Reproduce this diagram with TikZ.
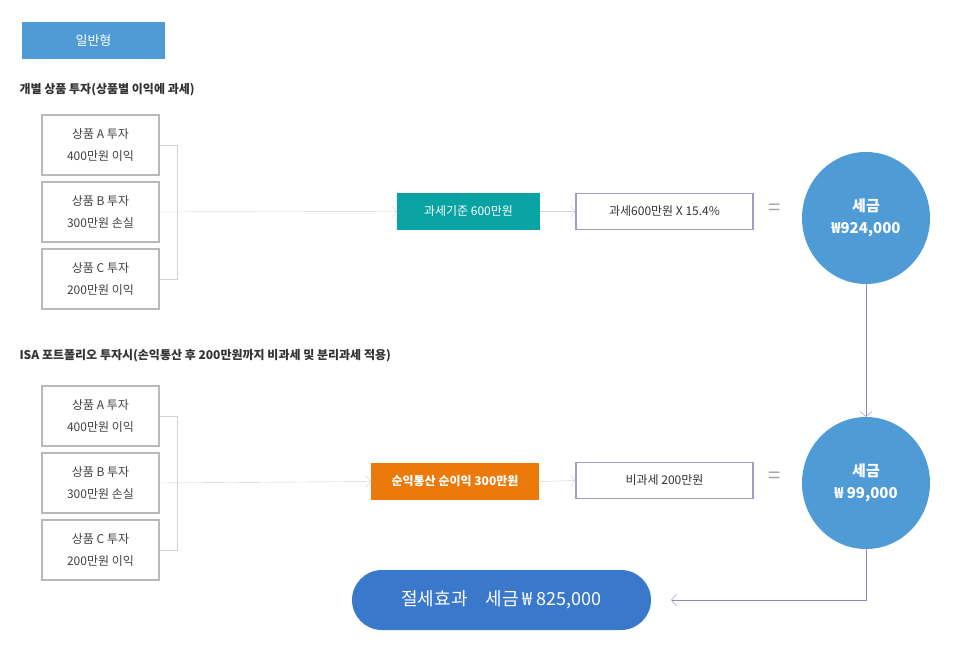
\documentclass[tikz,border=0pt]{standalone}
\usepackage{fontspec}
\setmainfont{Noto Sans CJK KR}
\usetikzlibrary{shapes.geometric,arrows.meta}
\definecolor{tabblue}{HTML}{4F9BD6}
\definecolor{teal}{HTML}{0AA3A3}
\definecolor{orng}{HTML}{EC7A0A}
\definecolor{pill}{HTML}{3A78CC}
\definecolor{linegray}{HTML}{D0D0D6}
\begin{document}
\begin{tikzpicture}[x=1pt,y=-1pt,
        item/.style={draw=gray!55,line width=1.2pt,minimum width=117pt,minimum height=60pt,
            align=center,font=\fontsize{12}{22}\selectfont,text=black!75},
        tag/.style={minimum height=37pt,text=white,font=\fontsize{12}{14}\selectfont},
        calc/.style={draw=blue!25!gray!60,line width=1.2pt,minimum width=177pt,minimum height=36pt,
            font=\fontsize{12}{14}\selectfont,text=black!80},
        tax/.style={ellipse,fill=tabblue,minimum width=128pt,minimum height=132pt,
            align=center,text=white,font=\bfseries\fontsize{15}{22}\selectfont},
        link/.style={draw=linegray,-{Straight Barb[length=5pt,width=12pt]}},
        brace/.style={draw=linegray},
        head/.style={anchor=west,font=\bfseries\fontsize{12}{14}\selectfont,text=black!80},
        eq/.style={text=gray!70,font=\fontsize{22}{22}\selectfont}]
\useasboundingbox (0,0) rectangle (956,654);

\node[fill=tabblue,minimum width=143pt,minimum height=37pt,text=white,
    font=\fontsize{13}{14}\selectfont] (type) at (93.5,40.5) {일반형};

% 개별 상품 투자
\node[head] (head1) at (16,90) {개별 상품 투자(상품별 이익에 과세)};
\node[item] (a1) at (100.5,145) {상품 A 투자\\400만원 이익};
\node[item] (b1) at (100.5,212) {상품 B 투자\\300만원 손실};
\node[item] (c1) at (100.5,279) {상품 C 투자\\200만원 이익};
\coordinate (j1) at (177,212);
\draw[brace] (a1.east) -| (177,279) -- (c1.east);
\node[tag,fill=teal,minimum width=143pt] (base1) at (468.5,211.5) {과세기준 600만원};
\draw[link] (b1.east) -- (base1.west);
\node[calc] (calc1) at (664.5,211.5) {과세600만원 X 15.4\%};
\draw[link] (base1.east) -- (calc1.west);
\node[eq] (eq1) at (775,210) {=};
\node[tax] (tax1) at (866,218) {세금\\₩924,000};

% ISA
\node[head] (head2) at (16,356) {ISA 포트폴리오 투자시(손익통산 후 200만원까지 비과세 및 분리과세 적용)};
\node[item] (a2) at (100.5,416) {상품 A 투자\\400만원 이익};
\node[item] (b2) at (100.5,483) {상품 B 투자\\300만원 손실};
\node[item] (c2) at (100.5,550) {상품 C 투자\\200만원 이익};
\draw[brace] (a2.east) -| (177,550) -- (c2.east);
\node[tag,fill=orng,minimum width=168pt,font=\bfseries\fontsize{12}{14}\selectfont] (base2) at (455,481.5) {순익통산 순이익 300만원};
\draw[link] (b2.east) -- (base2.west);
\node[calc] (calc2) at (664.5,480.5) {비과세 200만원};
\draw[link] (base2.east) -- (calc2.west);
\node[eq] (eq2) at (775,478) {=};
\node[tax] (tax2) at (866,483) {세금\\₩ 99,000};
\draw[link,draw=blue!30!gray!70] (tax1.south) -- (tax2.north);

\node[rounded corners=30pt,fill=pill,minimum width=299pt,minimum height=60pt,text=white,
    font=\fontsize{18}{20}\selectfont] (save) at (501.5,600) {절세효과\quad 세금 ₩ 825,000};
\draw[link,draw=blue!30!gray!70] (tax2.south) |- ([xshift=20pt]save.east);
\end{tikzpicture}
\end{document}
